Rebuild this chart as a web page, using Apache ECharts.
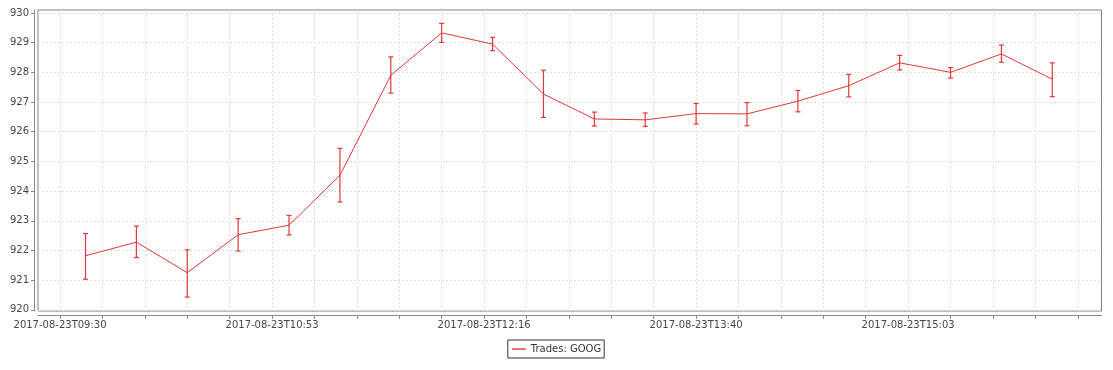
<!DOCTYPE html>
<html>
<head>
<meta charset="utf-8">
<script src="https://cdn.jsdelivr.net/npm/echarts@6/dist/echarts.min.js"></script>
<style>html,body{margin:0;padding:0;background:#fff;}#c{width:1113px;height:370px;}</style>
</head>
<body>
<div id="c"></div>
<script>
// Bar mid-times (HH:MM) for 2017-08-23
const times = ['09:40','10:00','10:20','10:40','11:00','11:20','11:40','12:00','12:20','12:40',
               '13:00','13:20','13:40','14:00','14:20','14:40','15:00','15:20','15:40','16:00'];
const means = [921.82, 922.28, 921.25, 922.53, 922.85, 924.53, 927.90, 929.33, 928.95, 927.27,
               926.43, 926.40, 926.61, 926.60, 927.03, 927.55, 928.32, 928.00, 928.62, 927.77];
const highs = [922.57, 922.82, 922.02, 923.07, 923.18, 925.44, 928.52, 929.65, 929.18, 928.07,
               926.66, 926.63, 926.95, 926.98, 927.39, 927.93, 928.57, 928.16, 928.92, 928.32];
const lows  = [921.03, 921.76, 920.43, 921.98, 922.52, 923.63, 927.30, 929.01, 928.73, 926.48,
               926.19, 926.18, 926.26, 926.20, 926.67, 927.17, 928.08, 927.81, 928.34, 927.18];
const seriesName = 'Trades: GOOG';

// x axis ticks, in seconds since midnight
const xTickValues = [34200, 35200, 36200, 37200, 38200, 39200, 40200, 41200, 42200, 43200,
                     44200, 45200, 46200, 47200, 48200, 49200, 50200, 51200, 52200, 53200,
                     54200, 55200, 56200, 57200, 58200];
const xLabelValues = [34200, 39200, 44200, 49200, 54200];
const xLabels = ['2017-08-23T09:30', '2017-08-23T10:53', '2017-08-23T12:16', '2017-08-23T13:40', '2017-08-23T15:03'];
const xMin = 33680, xMax = 58760;
// y axis ticks
const yTickValues = [920, 921, 922, 923, 924, 925, 926, 927, 928, 929, 930];
const yMin = 919.96, yMax = 930.1;

function toSec(s) { const p = s.split(':'); return (+p[0]) * 3600 + (+p[1]) * 60; }

const color = '#e23636';
const lineData = times.map((t, i) => [toSec(t), means[i]]);
const errData = times.map((t, i) => [toSec(t), lows[i], highs[i]]);

const chart = echarts.init(document.getElementById('c'), null, { renderer: 'canvas' });
const font = 'DejaVu Sans';
const gridLine = { show: true, lineStyle: { color: '#dedede', type: [2, 2], width: 1 } };
chart.setOption({
  animation: false,
  backgroundColor: '#ffffff',
  textStyle: { fontFamily: font },
  grid: { left: 38, right: 11.5, top: 10, bottom: 59, show: true, borderColor: '#808080', borderWidth: 1, backgroundColor: '#ffffff', containLabel: false },
  legend: {
    data: [{ name: seriesName, icon: 'rect', itemStyle: { color: '#ee7070' } }],
    left: 'center', top: 340,
    itemWidth: 14, itemHeight: 2, itemGap: 4,
    padding: [4, 3, 4, 4],
    borderColor: '#333', borderWidth: 1,
    textStyle: { fontFamily: font, fontSize: 10, color: '#333' }
  },
  xAxis: {
    type: 'value', min: xMin, max: xMax, offset: 4,
    axisLine: { show: true, onZero: false, lineStyle: { color: '#888', width: 1 } },
    axisTick: { show: true, length: 4, inside: false, customValues: xTickValues, lineStyle: { color: '#888' } },
    axisLabel: {
      show: true, customValues: xLabelValues, margin: 5,
      fontFamily: font, fontSize: 10, color: '#444',
      formatter: function (v) { const i = xLabelValues.indexOf(v); return i >= 0 ? xLabels[i] : ''; }
    },
    splitLine: gridLine
  },
  yAxis: {
    type: 'value', min: yMin, max: yMax, offset: 4,
    axisLine: { show: true, onZero: false, lineStyle: { color: '#888', width: 1 } },
    axisTick: { show: true, length: 3, customValues: yTickValues, lineStyle: { color: '#888' } },
    axisLabel: { customValues: yTickValues, fontFamily: font, fontSize: 10, color: '#444', margin: 5,
                 formatter: function (v) { return String(Math.round(v)); } },
    splitLine: gridLine
  },
  series: [
    {
      name: seriesName, type: 'line', data: lineData,
      symbol: 'none', lineStyle: { color: color, width: 1 }, itemStyle: { color: color },
      z: 3
    },
    {
      name: 'err', type: 'custom', data: errData,
      encode: { x: 0, y: [1, 2] },
      z: 4,
      renderItem: function (params, api) {
        const x = api.value(0);
        const pLo = api.coord([x, api.value(1)]);
        const pHi = api.coord([x, api.value(2)]);
        const cx = pLo[0];
        const w = 2.5;
        return {
          type: 'group',
          children: [
            { type: 'line', shape: { x1: cx, y1: pHi[1], x2: cx, y2: pLo[1] }, style: { stroke: color, lineWidth: 1.2, fill: null } },
            { type: 'line', shape: { x1: cx - w, y1: pHi[1], x2: cx + w, y2: pHi[1] }, style: { stroke: color, lineWidth: 1.2, fill: null } },
            { type: 'line', shape: { x1: cx - w, y1: pLo[1], x2: cx + w, y2: pLo[1] }, style: { stroke: color, lineWidth: 1.2, fill: null } }
          ]
        };
      }
    }
  ]
});
</script>
</body>
</html>
